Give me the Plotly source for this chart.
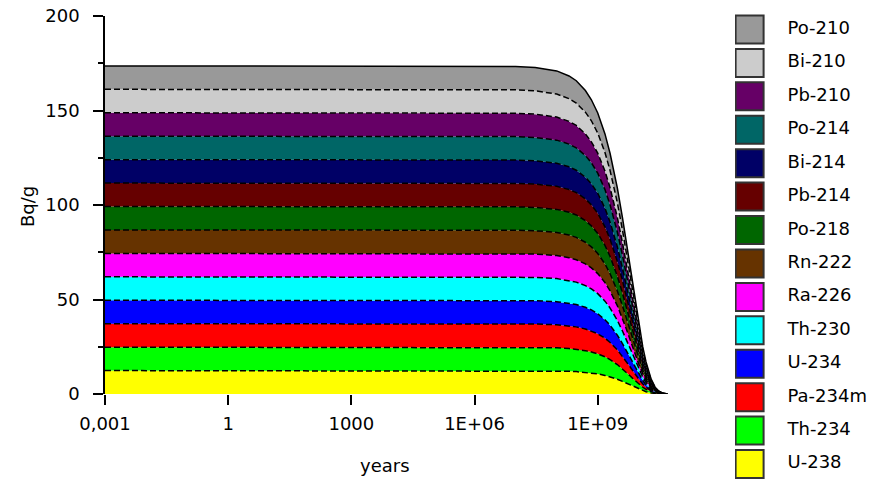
import plotly.graph_objects as go

# Time after separation (years) and activity of each chain member (Bq/g).
# The U-238 chain is in secular equilibrium, so every member carries the same activity.
years = [0.001, 0.01, 0.1, 1, 10, 100, 1e3, 1e4, 1e5, 1e6, 1e7, 3e7,
         1e8, 2e8, 3e8, 5e8, 7e8, 1e9, 1.5e9, 2e9, 3e9, 4e9, 5e9, 6e9,
         7e9, 8e9, 1e10, 1.25e10, 1.5e10, 2e10, 2.5e10, 3e10, 4e10, 5e10]
activity = [12.4, 12.4, 12.4, 12.4, 12.4, 12.4, 12.4, 12.4, 12.4, 12.4, 12.38, 12.34,
            12.21, 12.02, 11.84, 11.47, 11.12, 10.62, 9.83, 9.09, 7.79, 6.67, 5.71, 4.89,
            4.19, 3.58, 2.63, 1.78, 1.21, 0.56, 0.26, 0.12, 0.025, 0.005]

# Stacking order, bottom to top
nuclides = ["U-238", "Th-234", "Pa-234m", "U-234", "Th-230", "Ra-226", "Rn-222",
            "Po-218", "Pb-214", "Bi-214", "Po-214", "Pb-210", "Bi-210", "Po-210"]
colors = ["#FFFF00", "#00FF00", "#FF0000", "#0000FF", "#00FFFF", "#FF00FF", "#663300",
          "#006600", "#660000", "#000066", "#006666", "#660066", "#CCCCCC", "#999999"]

x_ticks = [0.001, 1, 1000, 1e6, 1e9]
x_tick_text = ["0,001", "1", "1000", "1E+06", "1E+09"]
y_ticks = [0, 50, 100, 150, 200]

FONT = "DejaVu Sans"
W, H = 881, 479
DASH = "6px,3px"

fig = go.Figure()

# Lower edge of the stack
fig.add_trace(go.Scatter(
    x=years, y=[0.0 for _ in years], mode="lines",
    line=dict(color="black", width=1.5, dash=DASH),
    showlegend=False, hoverinfo="skip"))

for i, (name, col) in enumerate(zip(nuclides, colors)):
    top = i == len(nuclides) - 1
    fig.add_trace(go.Scatter(
        x=years, y=activity, name=name, stackgroup="chain",
        mode="lines", fillcolor=col,
        line=dict(color="black", width=1.5, dash="solid" if top else DASH),
        showlegend=False))

# Legend drawn as a column of swatches with labels
n = len(nuclides)
rows = list(range(n))  # U-238 at row 0 (bottom), Po-210 at the top
fig.add_trace(go.Scatter(
    x=[1.0] * n, y=rows, mode="markers", xaxis="x2", yaxis="y2",
    marker=dict(symbol="square", size=28, color=colors,
                line=dict(color="#333333", width=2)),
    showlegend=False, hoverinfo="skip"))
fig.add_trace(go.Scatter(
    x=[3.6] * n, y=rows, mode="text", text=nuclides, textposition="middle right",
    textfont=dict(family=FONT, size=18, color="black"),
    xaxis="x2", yaxis="y2", showlegend=False, hoverinfo="skip"))

plot_left, plot_right = 105, 667.5
plot_top, plot_bottom = 16, 394

fig.update_layout(
    width=W, height=H,
    margin=dict(l=0, r=0, t=0, b=0),
    paper_bgcolor="white", plot_bgcolor="white",
    font=dict(family=FONT, size=18, color="black"),
    xaxis=dict(
        type="log", domain=[plot_left / W, plot_right / W],
        range=[-3, 10.699], tickvals=x_ticks, ticktext=x_tick_text,
        ticks="outside", ticklen=10, tickcolor="black", tickwidth=1.5,
        showline=False, showgrid=False, zeroline=False,
        ticklabelstandoff=3, automargin=False,
        tickfont=dict(family=FONT, size=18)),
    yaxis=dict(
        domain=[(H - plot_bottom) / H, (H - plot_top) / H],
        range=[0, 200], tickvals=y_ticks,
        ticks="outside", ticklen=10, tickcolor="black", tickwidth=1.5,
        minor=dict(dtick=25, ticks="outside", ticklen=5, tickcolor="black", tickwidth=1.5),
        showline=True, linecolor="black", linewidth=1.5,
        showgrid=False, zeroline=False, ticklabelstandoff=10,
        automargin=False, tickfont=dict(family=FONT, size=18)),
    xaxis2=dict(domain=[735 / W, 1.0], range=[0, 10], visible=False, fixedrange=True),
    yaxis2=dict(domain=[0, 1], range=[-0.449, 13.883], visible=False, fixedrange=True,
                anchor="x2"),
    annotations=[
        dict(text="Bq/g", x=27 / W, y=(H - 207) / H, xref="paper", yref="paper",
             textangle=-90, showarrow=False, xanchor="center", yanchor="middle",
             font=dict(family=FONT, size=18)),
        dict(text="years", x=385 / W, y=(H - 465) / H, xref="paper", yref="paper",
             showarrow=False, xanchor="center", yanchor="middle",
             font=dict(family=FONT, size=18)),
    ],
)

fig.write_html("out.html")
